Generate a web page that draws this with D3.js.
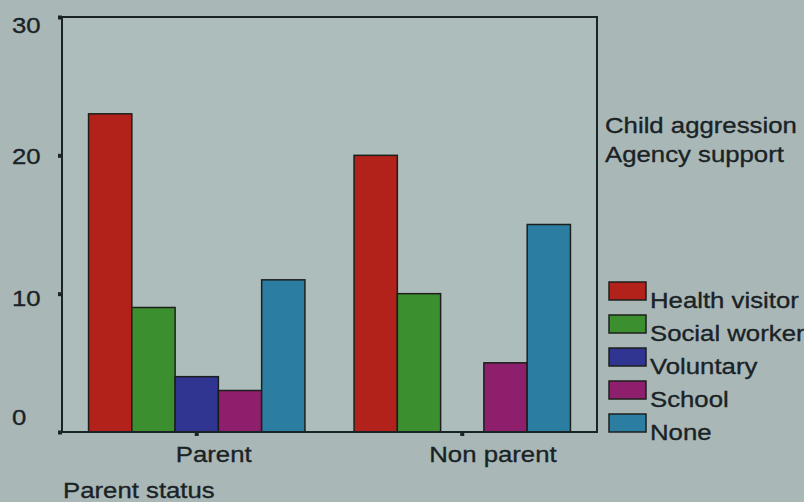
<!DOCTYPE html>
<html>
<head>
<meta charset="utf-8">
<script src="https://cdn.jsdelivr.net/npm/d3@7"></script>
<style>
  html, body { margin: 0; padding: 0; background: #a9b8b7; }
  svg { display: block; }
  text { font-family: "Liberation Sans", Arial, sans-serif; fill: #1a2226; stroke: #1a2226; stroke-width: 0.35px; }
</style>
</head>
<body>
<svg id="chart" width="804" height="502"></svg>
<script>
// Agency support for child aggression, by parent status (counts)
const groups = ["Parent", "Non parent"];
const series = ["Health visitor", "Social worker", "Voluntary", "School", "None"];
const parentValues = [23, 9, 4, 3, 11];
const nonParentValues = [20, 10, 0, 5, 15];
const colors = ["#b2221a", "#3c8f2f", "#2f3591", "#8e1f6d", "#2b7ea1"];
const yTicks = [0, 10, 20, 30];
const legendTitle = ["Child aggression", "Agency support"];
const xTitle = "Parent status";

const values = [parentValues, nonParentValues];
const data = groups.map((g, gi) => ({
  group: g,
  bars: series.map((s, si) => ({ series: s, value: values[gi][si] }))
}));

const svg = d3.select("#chart");
const W = 804, H = 502;
const plot = { left: 62, right: 597, top: 17, bottom: 432 };
const SX = 1.12; // horizontal stretch of the lettering
const FS = 23;

svg.append("rect").attr("width", W).attr("height", H).attr("fill", "#a9b8b7");

const y = d3.scaleLinear().domain([0, 30]).range([plot.bottom, plot.top]);
const x0 = d3.scaleBand().domain(groups).range([plot.left, plot.right])
  .paddingInner(0.185).paddingOuter(0.1);
const x1 = d3.scaleBand().domain(series).range([0, x0.bandwidth()]);
const color = d3.scaleOrdinal().domain(series).range(colors);

function label(sel, x, yy, str, anchor) {
  return sel.append("text")
    .attr("transform", `translate(${x},${yy}) scale(${SX},1)`)
    .attr("text-anchor", anchor || "start")
    .attr("font-size", FS)
    .text(str);
}

// plot panel
svg.append("rect")
  .attr("x", plot.left).attr("y", plot.top)
  .attr("width", plot.right - plot.left).attr("height", plot.bottom - plot.top)
  .attr("fill", "#adbdbc");

// bars
const gGroups = svg.append("g").selectAll("g").data(data).join("g")
  .attr("transform", d => `translate(${x0(d.group)},0)`);
gGroups.selectAll("rect").data(d => d.bars.filter(b => b.value > 0)).join("rect")
  .attr("x", d => x1(d.series))
  .attr("y", d => y(d.value))
  .attr("width", x1.bandwidth())
  .attr("height", d => y(0) - y(d.value))
  .attr("fill", d => color(d.series))
  .attr("stroke", "#1d1f1c")
  .attr("stroke-width", 1.5);

// frame
svg.append("rect")
  .attr("x", plot.left).attr("y", plot.top)
  .attr("width", plot.right - plot.left).attr("height", plot.bottom - plot.top)
  .attr("fill", "none").attr("stroke", "#1a2326").attr("stroke-width", 2);

// y axis
const yAxis = svg.append("g")
  .attr("transform", `translate(${plot.left},0)`)
  .call(d3.axisLeft(y).tickValues(yTicks).tickSize(4).tickFormat(d3.format("d")));
yAxis.select(".domain").remove();
yAxis.selectAll(".tick line").attr("stroke", "#1a2326").attr("stroke-width", 4);
const labelShift = { 0: -16, 10: 4, 20: 0, 30: 7 };
yAxis.selectAll(".tick text")
  .attr("x", 0).attr("dy", "0.35em")
  .attr("font-size", FS)
  .attr("font-family", "Liberation Sans, Arial, sans-serif")
  .attr("fill", "#1a2226")
  .attr("text-anchor", "start")
  .attr("transform", d => `translate(${12 - plot.left},${labelShift[d]}) scale(${SX},1)`);

// x axis
const xAxis = svg.append("g")
  .attr("transform", `translate(0,${plot.bottom})`)
  .call(d3.axisBottom(x0).tickSize(4).tickFormat(""));
xAxis.select(".domain").attr("stroke", "#1a2326").attr("stroke-width", 2)
  .attr("d", `M${plot.left - 3},0H${plot.right}`);
xAxis.selectAll(".tick line").attr("stroke", "#1a2326").attr("stroke-width", 4);

const catShift = { "Parent": -21, "Non parent": -33 };
groups.forEach(g => {
  label(svg, x0(g) + x0.bandwidth() / 2 + catShift[g], 462, g, "start");
});
label(svg, 63, 498, xTitle);

// legend
label(svg, 605, 133, legendTitle[0]);
label(svg, 605, 162, legendTitle[1]);
const legend = svg.append("g").selectAll("g").data(series).join("g")
  .attr("transform", (d, i) => `translate(609,${282 + i * 33})`);
legend.append("rect")
  .attr("width", 37).attr("height", 18)
  .attr("fill", d => color(d))
  .attr("stroke", "#1d1f1c").attr("stroke-width", 1.5);
legend.each(function(d) {
  label(d3.select(this), 41, 26, d);
});
</script>
</body>
</html>
